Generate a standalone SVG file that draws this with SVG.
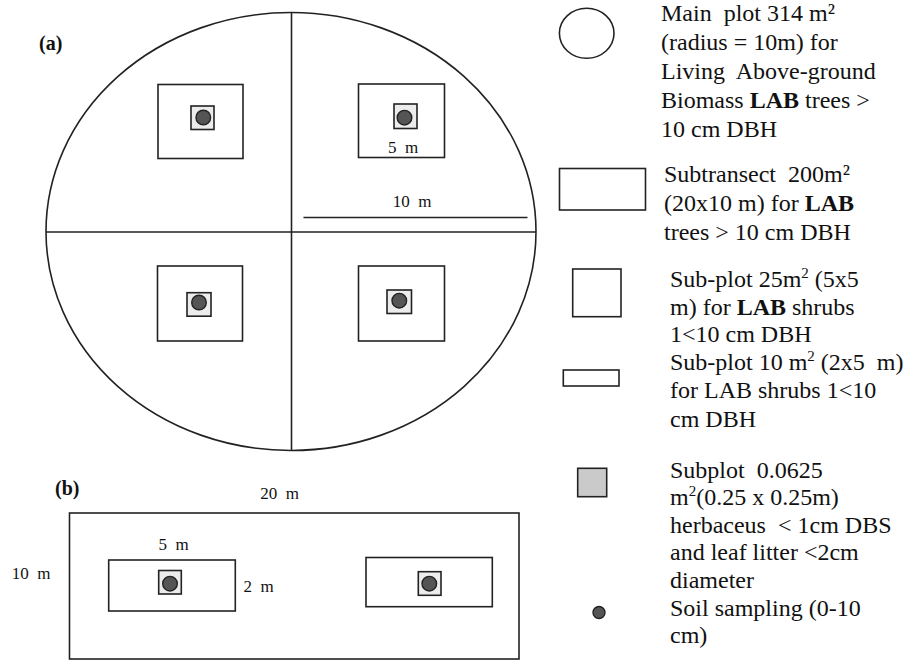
<svg xmlns="http://www.w3.org/2000/svg" width="916" height="668" viewBox="0 0 916 668">
<style>
.ln{fill:none;stroke:#222;stroke-width:1.6}
.box{fill:#fff;stroke:#222;stroke-width:1.6}
.sq{fill:#ececec;stroke:#222;stroke-width:1.6}
.dot{fill:#555;stroke:#222;stroke-width:1.4}
</style>
<rect width="916" height="668" fill="#fff"/>
<g font-family="'Liberation Serif', serif" fill="#111">
<text x="39" y="50" font-size="20" font-weight="bold">(a)</text>
<g id="mainplot">
<ellipse class="ln" cx="291" cy="231.5" rx="245" ry="219"/>
<line class="ln" x1="291.5" y1="12" x2="291.5" y2="451"/>
<line class="ln" x1="46" y1="232" x2="536" y2="232"/>
</g>
<g id="quad-tl">
<rect class="box" x="158" y="84.5" width="85" height="74"/>
<rect class="sq" x="191" y="106" width="23" height="23.5"/>
<circle class="dot" cx="203.3" cy="117.5" r="7.3"/>
</g>
<g id="quad-tr" font-size="17">
<rect class="box" x="358.5" y="84" width="86" height="73.5"/>
<rect class="sq" x="394" y="104" width="23" height="24.5"/>
<circle class="dot" cx="404.5" cy="117.7" r="7.3"/>
<text x="403" y="153" text-anchor="middle" xml:space="preserve">5  m</text>
<text x="412" y="207" text-anchor="middle" xml:space="preserve">10  m</text>
<line class="ln" x1="303.5" y1="217.5" x2="527.5" y2="217.5"/>
</g>
<g id="quad-bl">
<rect class="box" x="157.5" y="266" width="85" height="75"/>
<rect class="sq" x="187" y="292.7" width="24" height="23.5"/>
<circle class="dot" cx="199" cy="302.5" r="7.3"/>
</g>
<g id="quad-br">
<rect class="box" x="358.5" y="266" width="86" height="75"/>
<rect class="sq" x="387" y="290" width="24.5" height="23.5"/>
<circle class="dot" cx="399.3" cy="300.7" r="7.3"/>
</g>
<text x="55" y="495" font-size="20" font-weight="bold">(b)</text>
<g id="subtransect" font-size="17">
<text x="279.5" y="498.5" text-anchor="middle" xml:space="preserve">20  m</text>
<text x="31" y="578.5" text-anchor="middle" xml:space="preserve">10  m</text>
<rect class="box" x="69.5" y="513" width="449.5" height="146"/>
</g>
<g id="strip-left" font-size="17">
<text x="173.5" y="549.5" text-anchor="middle" xml:space="preserve">5  m</text>
<rect class="box" x="108.7" y="560" width="126.6" height="51"/>
<rect class="sq" x="158.7" y="570.5" width="22.6" height="23.5"/>
<circle class="dot" cx="170" cy="583.7" r="7.3"/>
<text x="258.5" y="591.7" text-anchor="middle" xml:space="preserve">2  m</text>
</g>
<g id="strip-right">
<rect class="box" x="366" y="557.5" width="126.3" height="49.2"/>
<rect class="sq" x="418.3" y="571.7" width="22.7" height="23.6"/>
<circle class="dot" cx="429.3" cy="583.7" r="7.3"/>
</g>
<g id="legend-main" font-size="24">
<ellipse class="ln" cx="586.7" cy="33.3" rx="27.3" ry="25"/>
<text x="661" y="21" xml:space="preserve">Main  plot 314 m²</text>
<text x="661" y="50">(radius = 10m) for</text>
<text x="661" y="79" xml:space="preserve">Living  Above-ground</text>
<text x="661" y="108">Biomass <tspan font-weight="bold">LAB</tspan> trees &gt;</text>
<text x="661" y="137">10 cm DBH</text>
</g>
<g id="legend-subtransect" font-size="24">
<rect class="box" x="559.5" y="168.5" width="86" height="41.5"/>
<text x="664" y="182" xml:space="preserve">Subtransect  200m²</text>
<text x="664" y="211">(20x10 m) for <tspan font-weight="bold">LAB</tspan></text>
<text x="664" y="240">trees &gt; 10 cm DBH</text>
</g>
<g id="legend-subplot25" font-size="24">
<rect class="box" x="572.7" y="269" width="48.3" height="47.7"/>
<text x="670" y="287">Sub-plot 25m<tspan dy="-9" font-size="15">2</tspan><tspan dy="9"> (5x5</tspan></text>
<text x="670" y="315">m) for <tspan font-weight="bold">LAB</tspan> shrubs</text>
<text x="670" y="342">1&lt;10 cm DBH</text>
</g>
<g id="legend-subplot10" font-size="24">
<rect class="box" x="563.3" y="370" width="55.7" height="16"/>
<text x="670" y="370">Sub-plot 10 m<tspan dy="-9" font-size="15">2</tspan><tspan dy="9" xml:space="preserve"> (2x5  m)</tspan></text>
<text x="670" y="398">for LAB shrubs 1&lt;10</text>
<text x="670" y="427">cm DBH</text>
</g>
<g id="legend-quadrat" font-size="24">
<rect x="577.7" y="468.3" width="29" height="28.4" fill="#cacaca" stroke="#222" stroke-width="1.6"/>
<text x="670" y="478" xml:space="preserve">Subplot  0.0625</text>
<text x="670" y="505">m<tspan dy="-9" font-size="15">2</tspan><tspan dy="9">(0.25 x 0.25m)</tspan></text>
<text x="670" y="533" xml:space="preserve">herbaceus  &lt; 1cm DBS</text>
<text x="670" y="560">and leaf litter &lt;2cm</text>
<text x="670" y="588">diameter</text>
</g>
<g id="legend-soil" font-size="24">
<circle class="dot" cx="599" cy="612.5" r="6"/>
<text x="670" y="616">Soil sampling (0-10</text>
<text x="670" y="643">cm)</text>
</g>
</g>
</svg>
